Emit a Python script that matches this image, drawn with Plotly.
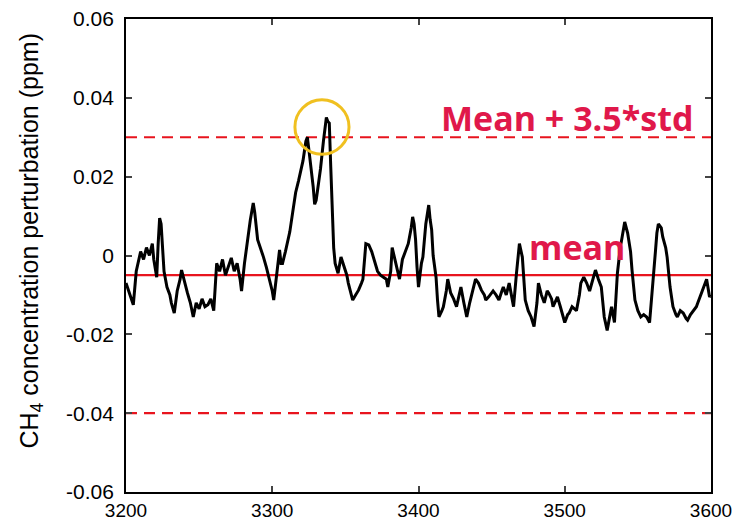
import plotly.graph_objects as go

# Time / index values and CH4 perturbation (ppm)
x_vals = [3200, 3202, 3204, 3205, 3207, 3208, 3210, 3212, 3214, 3216, 3218, 3219, 3221, 3222, 3223, 3224, 3225, 3226,
          3228, 3230, 3231, 3233, 3235, 3237, 3238, 3240, 3242, 3244, 3246, 3248, 3250, 3252, 3254, 3256, 3258, 3260,
          3262, 3264, 3266, 3268, 3270, 3272, 3274, 3276, 3278, 3279, 3281, 3283, 3285, 3287, 3288, 3290, 3292, 3294,
          3296, 3298, 3300, 3301, 3303, 3305, 3306, 3307, 3309, 3310, 3312, 3314, 3316, 3318, 3320, 3321, 3323, 3324,
          3325, 3327, 3328, 3329, 3330, 3331, 3333, 3335, 3336, 3337, 3338, 3339, 3340, 3341, 3342, 3343, 3345, 3347,
          3349, 3351, 3352, 3354, 3355, 3357, 3359, 3361, 3362, 3364, 3366, 3368, 3369, 3371, 3372, 3374, 3376, 3378,
          3379, 3381, 3382, 3384, 3385, 3387, 3389, 3391, 3393, 3395, 3396, 3397, 3398, 3399, 3400, 3402, 3403, 3405,
          3407, 3408, 3409, 3410, 3412, 3413, 3414, 3416, 3417, 3419, 3420, 3422, 3424, 3426, 3428, 3429, 3431, 3433,
          3435, 3436, 3438, 3439, 3441, 3443, 3445, 3446, 3448, 3451, 3453, 3455, 3457, 3458, 3460, 3462, 3464, 3465,
          3467, 3469, 3471, 3473, 3475, 3477, 3479, 3481, 3482, 3484, 3486, 3488, 3489, 3491, 3492, 3494, 3495, 3497,
          3500, 3502, 3503, 3505, 3508, 3510, 3511, 3513, 3515, 3517, 3519, 3521, 3523, 3525, 3527, 3529, 3531, 3532,
          3534, 3536, 3538, 3539, 3541, 3543, 3545, 3546, 3548, 3550, 3552, 3554, 3556, 3558, 3560, 3562, 3563, 3564,
          3566, 3567, 3569, 3570, 3572, 3574, 3576, 3577, 3579, 3581, 3583, 3584, 3586, 3588, 3590, 3591, 3593, 3595,
          3597, 3599, 3600]
y_vals = [-0.007, -0.009, -0.011, -0.0125, -0.004, -0.002, 0.001, -0.001, 0.002, 0.0, 0.003, -0.001, -0.0055, 0.003, 0.0095, 0.008, 0.002, -0.004,
          -0.008, -0.010, -0.012, -0.0146, -0.009, -0.006, -0.0037, -0.007, -0.0095, -0.012, -0.0156, -0.012, -0.0135, -0.011, -0.013, -0.0125, -0.011, -0.014,
          -0.002, -0.004, -0.001, -0.005, -0.003, -0.0006, -0.004, -0.002, -0.006, -0.009, -0.002, 0.004, 0.009, 0.0133, 0.011, 0.004, 0.002, -0.0004,
          -0.003, -0.006, -0.009, -0.0113, -0.005, 0.0014, -0.002, -0.002, 0.001, 0.0027, 0.006, 0.011, 0.016, 0.019, 0.022, 0.024, 0.029, 0.030,
          0.027, 0.021, 0.0174, 0.013, 0.014, 0.0166, 0.022, 0.029, 0.033, 0.035, 0.034, 0.0336, 0.0225, 0.0116, 0.002, -0.002, -0.0045, -0.0004,
          -0.003, -0.005, -0.007, -0.010, -0.0113, -0.010, -0.0088, -0.007, -0.006, 0.003, 0.0027, 0.001, -0.0004, -0.003, -0.004, -0.005, -0.0055, -0.006,
          -0.008, -0.004, 0.002, -0.001, -0.003, -0.006, -0.001, 0.001, 0.003, 0.007, 0.0098, 0.008, 0.004, -0.003, -0.008, -0.002, -0.0004, 0.008,
          0.0128, 0.009, 0.0065, 0.0, -0.0055, -0.0113, -0.0156, -0.014, -0.013, -0.009, -0.006, -0.0095, -0.011, -0.013, -0.010, -0.008, -0.012, -0.0156,
          -0.012, -0.0105, -0.008, -0.006, -0.007, -0.0088, -0.010, -0.0113, -0.0105, -0.009, -0.010, -0.0113, -0.009, -0.008, -0.010, -0.007, -0.011, -0.013,
          -0.0045, 0.003, -0.0004, -0.0113, -0.014, -0.0156, -0.018, -0.012, -0.007, -0.010, -0.012, -0.009, -0.0095, -0.011, -0.013, -0.011, -0.0105, -0.013,
          -0.017, -0.015, -0.0146, -0.013, -0.014, -0.010, -0.007, -0.0055, -0.007, -0.009, -0.006, -0.0037, -0.006, -0.008, -0.0156, -0.019, -0.015, -0.013,
          -0.017, -0.0045, 0.002, 0.004, 0.0085, 0.0057, 0.001, -0.0037, -0.0113, -0.014, -0.0156, -0.015, -0.0156, -0.017, -0.009, 0.001, 0.0057, 0.008,
          0.007, 0.0047, 0.002, -0.0004, -0.008, -0.013, -0.015, -0.0156, -0.014, -0.0146, -0.016, -0.0164, -0.015, -0.014, -0.013, -0.012, -0.010, -0.008,
          -0.006, -0.0105, -0.010]

mean_val = -0.005
upper_val = 0.03
lower_val = -0.04

y_ticks = [0.06, 0.04, 0.02, 0, -0.02, -0.04, -0.06]
y_tick_text = ["0.06", "0.04", "0.02", "0", "-0.02", "-0.04", "-0.06"]
x_ticks = [3200, 3300, 3400, 3500, 3600]

red = "#e8141e"
label_red = "#e0184a"

fig = go.Figure()

fig.add_trace(go.Scatter(x=[3200, 3600], y=[mean_val, mean_val], mode="lines",
                         line=dict(color=red, width=2.2), showlegend=False, hoverinfo="skip"))
fig.add_trace(go.Scatter(x=[3200, 3600], y=[upper_val, upper_val], mode="lines",
                         line=dict(color=red, width=2.2, dash="11px,7px"), showlegend=False, hoverinfo="skip"))
fig.add_trace(go.Scatter(x=[3200, 3600], y=[lower_val, lower_val], mode="lines",
                         line=dict(color=red, width=2.2, dash="11px,7px"), showlegend=False, hoverinfo="skip"))
fig.add_trace(go.Scatter(x=x_vals, y=y_vals, mode="lines",
                         line=dict(color="black", width=3), showlegend=False))

fig.add_shape(type="circle", xref="x", yref="y",
              x0=3334 - 18.5, x1=3334 + 18.5, y0=0.0326 - 0.0069, y1=0.0326 + 0.0069,
              line=dict(color="#f0c020", width=3))

fig.add_annotation(x=3600, y=0.0348, xref="x", yref="y", text="<b>Mean + 3.5*std</b>",
                   showarrow=False, xanchor="right", xshift=-16, yanchor="middle",
                   font=dict(family="Open Sans, Liberation Sans, Arial", size=34, color=label_red))
fig.add_annotation(x=3469, y=0.0022, xref="x", yref="y", text="<b>mean</b>",
                   showarrow=False, xanchor="left", xshift=8, yanchor="middle",
                   font=dict(family="Open Sans, Liberation Sans, Arial", size=34, color=label_red))

# y-axis title placed as a rotated annotation for exact positioning
fig.add_annotation(x=0, y=0.5, xref="paper", yref="paper", xshift=-96, yshift=15,
                   text="CH<sub>4</sub> concentration perturbation (ppm)", textangle=-90,
                   showarrow=False, xanchor="center", yanchor="middle",
                   font=dict(family="Liberation Sans, Arial", size=25, color="black"))

tick_font = dict(family="Liberation Sans, Arial", size=21, color="black")
fig.update_xaxes(range=[3200, 3600], tickvals=x_ticks, ticks="inside", ticklen=6, tickwidth=1.5,
                 showline=True, linecolor="black", linewidth=1.8, mirror="ticks", automargin=False,
                 showgrid=False, zeroline=False, tickfont=dict(family="Liberation Sans, Arial", size=19, color="black"),
                 ticklabelstandoff=0)
fig.update_yaxes(range=[-0.06, 0.06], tickvals=y_ticks, ticktext=y_tick_text, ticks="inside", ticklen=6, tickwidth=1.5,
                 showline=True, linecolor="black", linewidth=1.8, mirror="ticks", automargin=False,
                 showgrid=False, zeroline=False, tickfont=tick_font, ticklabelstandoff=6)

fig.update_layout(width=741, height=521, margin=dict(l=126, r=30, t=19, b=29),
                  plot_bgcolor="white", paper_bgcolor="white")

fig.write_html("out.html")
